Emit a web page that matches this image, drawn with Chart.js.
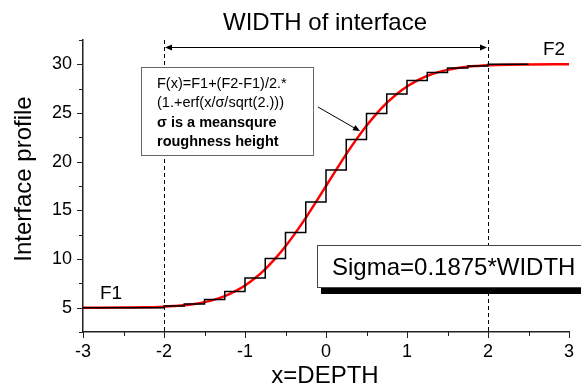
<!DOCTYPE html>
<html>
<head>
<meta charset="utf-8">
<script src="https://cdn.jsdelivr.net/npm/chart.js@4"></script>
<style>
  html, body { margin: 0; padding: 0; background: #fff; }
  #chart { display: block; }
</style>
</head>
<body>
<canvas id="chart" width="581" height="385"></canvas>
<script>
// smooth erf profile
const curveX = [-3, -2.5, -2.25, -2, -1.875, -1.75, -1.625, -1.5, -1.375, -1.25, -1.125, -1, -0.875, -0.75, -0.625, -0.5, -0.375, -0.25, -0.125, 0,
                0.125, 0.25, 0.375, 0.5, 0.625, 0.75, 0.875, 1, 1.125, 1.25, 1.375, 1.5, 1.625, 1.75, 1.875, 2, 2.25, 2.5, 3];
const curveY = [5, 5.01, 5.03, 5.1, 5.16, 5.24, 5.38, 5.57, 5.83, 6.19, 6.67, 7.28, 8.04, 8.97, 10.06, 11.31, 12.71, 14.23, 15.85, 17.5,
                19.15, 20.77, 22.29, 23.69, 24.94, 26.03, 26.96, 27.72, 28.33, 28.81, 29.17, 29.43, 29.62, 29.76, 29.84, 29.9, 29.97, 29.99, 30];

// staircase (value holds from each x to the next)
const stepX = [-3, -2, -1.75, -1.5, -1.25, -1, -0.75, -0.5, -0.25, 0, 0.25, 0.5, 0.75, 1, 1.25, 1.5, 1.75, 2, 2.5];
const stepY = [5, 5.16, 5.38, 5.83, 6.67, 8.04, 10.06, 12.71, 15.85, 19.15, 22.29, 24.94, 26.96, 28.33, 29.17, 29.62, 29.84, 30, 30];

const xTicks = [-3, -2.5, -2, -1.5, -1, -0.5, 0, 0.5, 1, 1.5, 2, 2.5, 3];
const yTicks = [2.5, 5, 7.5, 10, 12.5, 15, 17.5, 20, 22.5, 25, 27.5, 30, 32.5];
const widthEdges = [-2, 2];

const FONT = '"Liberation Sans", Arial, sans-serif';
Chart.defaults.font.family = FONT;
Chart.defaults.color = '#000';

const isMajor = v => Math.abs(v - Math.round(v)) < 1e-9;

const extras = {
    id: 'extras',
    afterDraw(chart) {
        const { ctx, chartArea: a, scales: { x, y } } = chart;
        ctx.save();

        // tick marks, long on labelled values
        ctx.strokeStyle = '#222';
        ctx.lineWidth = 1;
        ctx.beginPath();
        xTicks.forEach(v => {
            const px = Math.round(x.getPixelForValue(v)) + 0.5;
            ctx.moveTo(px, a.bottom);
            ctx.lineTo(px, a.bottom + (isMajor(v) ? 6 : 4));
        });
        yTicks.forEach(v => {
            const py = Math.round(y.getPixelForValue(v)) + 0.5;
            ctx.moveTo(a.left, py);
            ctx.lineTo(a.left - (v % 5 === 0 ? 6 : 4), py);
        });
        ctx.stroke();

        // dashed limits of the interface
        ctx.strokeStyle = '#000';
        ctx.setLineDash([4, 3]);
        ctx.beginPath();
        widthEdges.forEach(v => {
            const px = Math.round(x.getPixelForValue(v)) + 0.5;
            ctx.moveTo(px, a.top);
            ctx.lineTo(px, a.bottom);
        });
        ctx.stroke();
        ctx.setLineDash([]);

        // double arrow between the limits
        const ax1 = x.getPixelForValue(widthEdges[0]), ax2 = x.getPixelForValue(widthEdges[1]);
        const ay = 47.5;
        ctx.beginPath();
        ctx.moveTo(ax1 + 2, ay);
        ctx.lineTo(ax2 - 2, ay);
        ctx.stroke();
        arrowHead(ctx, ax1 + 1, ay, Math.PI);
        arrowHead(ctx, ax2 - 1, ay, 0);

        // formula box
        ctx.fillStyle = '#fff';
        ctx.fillRect(141, 67, 172, 88);
        ctx.strokeStyle = '#666';
        ctx.strokeRect(141.5, 67.5, 172, 88);
        ctx.fillStyle = '#000';
        ctx.textAlign = 'left';
        ctx.textBaseline = 'alphabetic';
        ctx.font = '14.5px ' + FONT;
        ctx.fillText('F(x)=F1+(F2-F1)/2.*', 157, 88);
        ctx.fillText('(1.+erf(x/σ/sqrt(2.)))', 157, 107);
        ctx.font = 'bold 14.5px ' + FONT;
        ctx.fillText('σ is a meansqure', 157, 127);
        ctx.fillText('roughness height', 157, 146);

        // pointer from box to curve
        ctx.strokeStyle = '#000';
        ctx.beginPath();
        ctx.moveTo(318, 107);
        ctx.lineTo(358, 130);
        ctx.stroke();
        arrowHead(ctx, 360, 131, Math.atan2(24, 42));

        // sigma box with shadow
        ctx.fillStyle = '#000';
        ctx.fillRect(321, 288, 270, 6);
        ctx.fillStyle = '#fff';
        ctx.fillRect(317, 245, 280, 42);
        ctx.strokeStyle = '#444';
        ctx.strokeRect(317.5, 245.5, 280, 42);
        ctx.fillStyle = '#000';
        ctx.font = '24px ' + FONT;
        ctx.fillText('Sigma=0.1875*WIDTH', 332, 275);

        // labels
        ctx.font = '19px ' + FONT;
        ctx.fillText('F2', 543, 55);
        ctx.fillText('F1', 100, 299);
        ctx.font = '24px ' + FONT;
        ctx.textAlign = 'center';
        ctx.fillText('WIDTH of interface', 325, 30);
        ctx.fillText('x=DEPTH', 325, 383);
        ctx.translate(24, 179);
        ctx.rotate(-Math.PI / 2);
        ctx.textBaseline = 'middle';
        ctx.fillText('Interface profile', 0, 0);

        ctx.restore();
    }
};

function arrowHead(ctx, px, py, ang) {
    ctx.save();
    ctx.translate(px, py);
    ctx.rotate(ang);
    ctx.fillStyle = '#000';
    ctx.beginPath();
    ctx.moveTo(0, 0);
    ctx.lineTo(-7, -3);
    ctx.lineTo(-7, 3);
    ctx.closePath();
    ctx.fill();
    ctx.restore();
}

new Chart(document.getElementById('chart'), {
    type: 'scatter',
    data: {
        datasets: [
            {
                label: 'steps',
                data: stepX.map((v, i) => ({ x: v, y: stepY[i] })),
                showLine: true, stepped: true,
                borderColor: '#000', borderWidth: 1.5,
                pointRadius: 0, order: 0
            },
            {
                label: 'erf',
                data: curveX.map((v, i) => ({ x: v, y: curveY[i] })),
                showLine: true, cubicInterpolationMode: 'monotone',
                borderColor: '#ff0000', borderWidth: 2.5,
                pointRadius: 0, order: 1
            }
        ]
    },
    options: {
        responsive: false,
        animation: false,
        events: [],
        layout: { padding: { top: 40, right: 12, left: 0, bottom: 0 } },
        plugins: { legend: { display: false }, tooltip: { enabled: false } },
        scales: {
            x: {
                type: 'linear', min: -3, max: 3,
                afterBuildTicks: s => { s.ticks = xTicks.map(v => ({ value: v })); },
                afterFit: s => { s.height = 53; },
                grid: { display: true, drawOnChartArea: false, tickLength: 6, color: 'rgba(0,0,0,0)' },
                border: { display: true, color: '#222', width: 1.5 },
                ticks: { font: { size: 18 }, padding: 3, maxRotation: 0, autoSkip: false,
                         callback: v => isMajor(v) ? String(v) : '' }
            },
            y: {
                type: 'linear', min: 2.5, max: 32.5,
                afterBuildTicks: s => { s.ticks = yTicks.map(v => ({ value: v })); },
                afterFit: s => { s.width = 83; },
                grid: { display: true, drawOnChartArea: false, tickLength: 6, color: 'rgba(0,0,0,0)' },
                border: { display: true, color: '#222', width: 1.5 },
                ticks: { font: { size: 18 }, padding: 5, autoSkip: false,
                         callback: v => v % 5 === 0 ? String(v) : '' }
            }
        }
    },
    plugins: [extras]
});
</script>
</body>
</html>
